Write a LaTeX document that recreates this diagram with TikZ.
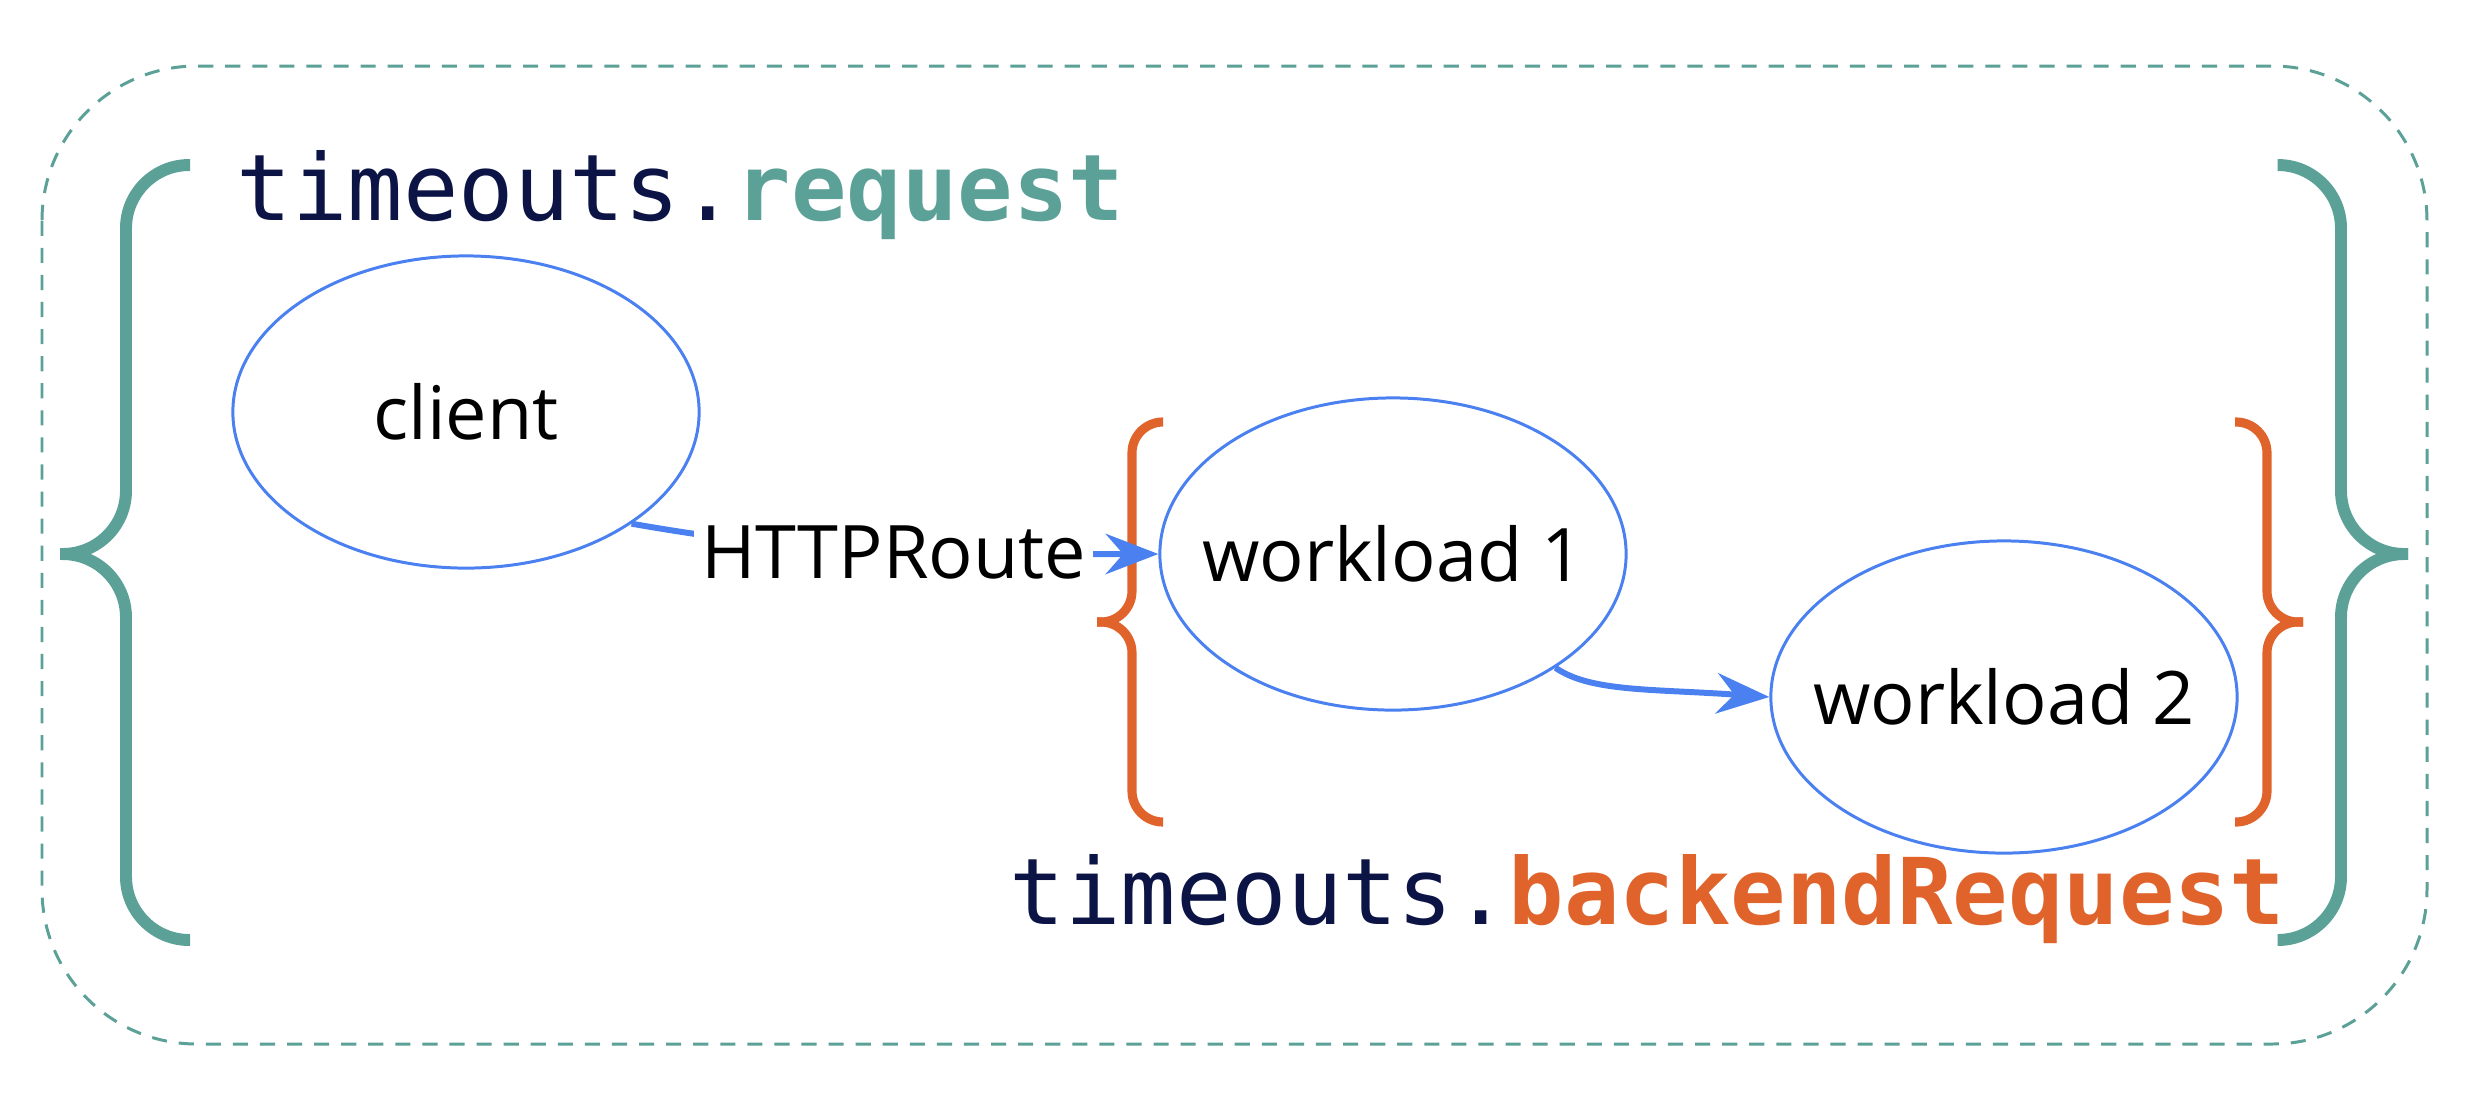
\documentclass[tikz,border=0pt]{standalone}
\usepackage{fontspec}
\setmainfont{Open Sans}
\setmonofont{DejaVu Sans Mono}
\usetikzlibrary{arrows.meta,shapes.geometric}
\definecolor{reqteal}{HTML}{5BA197}
\definecolor{backorange}{HTML}{E0632C}
\definecolor{linkblue}{HTML}{4A80F0}
\definecolor{codenavy}{HTML}{0C1445}

\begin{document}
\begin{tikzpicture}[x=0.01cm, y=-0.01cm,
    wl/.style={ellipse, draw=linkblue, line width=0.85pt, inner xsep=-10pt, minimum width=4.66cm, minimum height=3.12cm, font=\fontsize{21}{25}\selectfont},
    flow/.style={draw=linkblue, line width=1.7pt, -{Stealth[length=15pt, width=11.5pt, inset=5pt]}},
    lbl/.style={fill=white, inner sep=2pt, font=\fontsize{21}{25}\selectfont},
    code/.style={anchor=base west, inner sep=0pt, text=codenavy, font=\ttfamily\fontsize{26.2}{30}\selectfont},
    outerbrace/.style={draw=reqteal, line width=3.4pt, rounded corners=18pt},
    innerbrace/.style={draw=backorange, line width=2.6pt, rounded corners=8.8pt}]
  \useasboundingbox (0,0) rectangle (2468,1105);
  \draw[reqteal, line width=0.85pt, dash pattern=on 4.3pt off 3.4pt, rounded corners=44pt] (42,66) rectangle (2427,1044);

  \draw[outerbrace] (190,165) -- (126,165) -- (126,554) -- (60,554);
  \draw[outerbrace] (60,554) -- (126,554) -- (126,940) -- (190,940);
  \draw[outerbrace] (2278,165) -- (2341,165) -- (2341,554) -- (2408,554);
  \draw[outerbrace] (2408,554) -- (2341,554) -- (2341,940) -- (2278,940);
  \draw[innerbrace] (1163,422) -- (1132,422) -- (1132,622) -- (1097,622);
  \draw[innerbrace] (1097,622) -- (1132,622) -- (1132,822) -- (1163,822);
  \draw[innerbrace] (2235,422) -- (2267,422) -- (2267,622) -- (2303,622);
  \draw[innerbrace] (2303,622) -- (2267,622) -- (2267,822) -- (2235,822);

  \node[wl] (client) at (466,412) {client};
  \node[wl] (w1) at (1393,554) {workload 1};
  \node[wl] (w2) at (2004,697) {workload 2};
  \node[code] (req) at (236,220) {timeouts.\textbf{\color{reqteal}request}};
  \node[code] (breq) at (1009,924) {timeouts.\textbf{\color{backorange}backendRequest}};

  \draw (client.-34) edge[flow, out=-10, in=180] node[lbl] {HTTPRoute} (w1)
        (w1.-35) edge[flow, out=-35, in=176, out looseness=0.5, in looseness=1.4] (w2.west);
\end{tikzpicture}
\end{document}
